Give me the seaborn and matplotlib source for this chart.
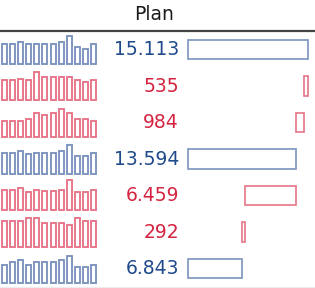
"""
Waterfall table: monthly sparklines, values and plan bars
"""
import matplotlib
matplotlib.use("Agg")
import matplotlib.pyplot as plt
import matplotlib.transforms as mtransforms
import seaborn as sns
import numpy as np
import pandas as pd

W, H = 315, 288

rows = ["Row 1", "Row 2", "Row 3", "Row 4", "Row 5", "Row 6", "Row 7"]
kinds = ["total", "delta", "delta", "total", "delta", "delta", "total"]
plan = [15113, 535, 984, 13594, 6459, 292, 6843]
months = ["Jan", "Feb", "Mar", "Apr", "May", "Jun",
          "Jul", "Aug", "Sep", "Oct", "Nov", "Dec"]
spark_1 = [59, 59, 65, 59, 59, 59, 59, 65, 85, 52, 45, 59]
spark_2 = [60, 60, 66, 60, 85, 72, 72, 72, 72, 60, 55, 60]
spark_3 = [49, 49, 49, 55, 72, 66, 72, 85, 72, 55, 55, 49]
spark_4 = [62, 62, 69, 59, 62, 62, 62, 69, 87, 52, 52, 62]
spark_5 = [60, 60, 65, 55, 60, 57, 57, 60, 90, 55, 55, 60]
spark_6 = [78, 78, 78, 85, 85, 72, 72, 72, 66, 85, 78, 78]
spark_7 = [55, 62, 68, 55, 62, 62, 62, 68, 80, 48, 48, 55]
sparks = [spark_1, spark_2, spark_3, spark_4, spark_5, spark_6, spark_7]

BLUE_LINE = "#7b93bd"
RED_LINE = "#e57487"
BLUE_TEXT = "#1f4a8c"
RED_TEXT = "#d42440"

# running total for the waterfall
starts, ends = [], []
run = 0
for k, v in zip(kinds, plan):
    if k == "total":
        run = v
        starts.append(0)
        ends.append(v)
    else:
        starts.append(run - v)
        ends.append(run)
        run = run - v

df = pd.DataFrame({"row": rows, "kind": kinds, "plan": plan,
                   "start": starts, "end": ends})

fig = plt.figure(figsize=(W / 100, H / 100), dpi=100)
fig.patch.set_facecolor("white")

def px_x(x):
    return x / W

def px_y(y):
    return 1 - y / H

ROW0, ROWH = 49.5, 36.5
top_px = ROW0 - ROWH / 2
bot_px = top_px + ROWH * len(rows)

# header
fig.text(px_x(154), px_y(14), "Plan", ha="center", va="center",
         fontsize=13.5, color="#1a1a1a", family="DejaVu Sans")
fig.add_artist(plt.Line2D([0, 1], [px_y(31.3), px_y(31.3)],
                          transform=fig.transFigure, color="#444444", lw=1.6))
fig.add_artist(plt.Line2D([0, 1], [px_y(286.5), px_y(286.5)],
                          transform=fig.transFigure, color="#ececec", lw=0.8))

# sparklines
for i, vals in enumerate(sparks):
    c = ROW0 + ROWH * i
    ax_s = fig.add_axes([0, px_y(c + 14.5), px_x(98), 30 / H])
    col = BLUE_LINE if kinds[i] == "total" else RED_LINE
    sns.barplot(x=months, y=vals, fill=False, color=col, width=0.6,
                linewidth=1.35, ax=ax_s)
    ax_s.set_xlim(-0.5, 11.5)
    ax_s.set_ylim(0, 90)
    ax_s.axis("off")
    for p in ax_s.patches:
        p.set_clip_on(False)

# waterfall bars
ax = fig.add_axes([px_x(188), px_y(bot_px), px_x(120), (bot_px - top_px) / H])
tot = df[df.kind == "total"]
dlt = df[df.kind == "delta"]
sns.barplot(data=tot, x="plan", y="row", order=rows, orient="h", fill=False,
            color=BLUE_LINE, width=0.53, linewidth=1.2, ax=ax)
sns.barplot(data=dlt, x="plan", y="row", order=rows, orient="h", fill=False,
            color=RED_LINE, width=0.53, linewidth=1.2, ax=ax,
            left=dlt["start"].to_numpy())
ax.set_xlim(0, max(plan))
ax.set_ylim(len(rows) - 0.5, -0.5)
ax.axis("off")
for p in ax.patches:
    p.set_clip_on(False)

# value labels
trans = mtransforms.blended_transform_factory(fig.transFigure, ax.transData)
for i, (k, v) in enumerate(zip(kinds, plan)):
    txt = f"{v:,}".replace(",", ".")
    ax.text(px_x(179), i, txt, transform=trans, ha="right", va="center",
            fontsize=13.5, family="DejaVu Sans",
            color=BLUE_TEXT if k == "total" else RED_TEXT)

fig.savefig("out.png", dpi=100, facecolor="white")
